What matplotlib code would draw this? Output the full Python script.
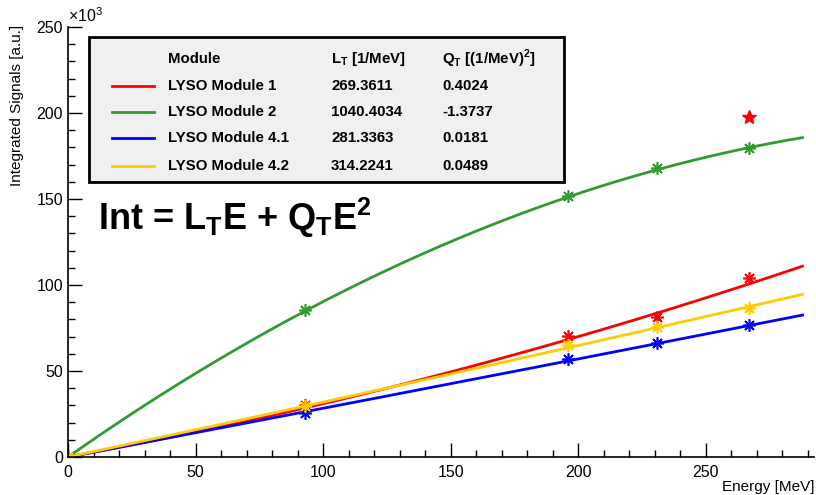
import matplotlib.pyplot as plt
import numpy as np
from matplotlib.ticker import MultipleLocator
from matplotlib.patches import Rectangle
from matplotlib.lines import Line2D

plt.rcParams['font.family'] = 'Liberation Sans'
plt.rcParams['mathtext.fontset'] = 'custom'
plt.rcParams['mathtext.rm'] = 'Liberation Sans'
plt.rcParams['mathtext.bf'] = 'Liberation Sans:bold'

# measured points (signals in units of 10^3 a.u.)
energy = [0, 93, 196, 231, 267]
mod1 = [0, 30.2, 70.3, 81.4, 104.0]
mod2 = [0, 85.5, 151.7, 168.0, 179.6]
mod41 = [0, 25.6, 57.0, 66.3, 76.7]
mod42 = [0, 29.7, 65.0, 75.6, 86.6]
outlierE, outlierY = 267, 197.7  # red star

# fit results: Int = L*E + Q*E^2
names = ["LYSO Module 1", "LYSO Module 2", "LYSO Module 4.1", "LYSO Module 4.2"]
L = [269.3611, 1040.4034, 281.3363, 314.2241]
Q = [0.4024, -1.3737, 0.0181, 0.0489]
colors = ["#ff0000", "#339933", "#0000ff", "#ffcc00"]
points = [mod1, mod2, mod41, mod42]

W, H = 816, 495
fig = plt.figure(figsize=(W / 100, H / 100), dpi=100)
ax = fig.add_axes([68 / W, 1 - 457 / H, (814 - 68) / W, (457 - 27) / H])


def px(x, y):
    return x / W, 1 - y / H


E = np.linspace(0, 288, 400)
for l, q, c, pts in zip(L, Q, colors, points):
    ax.plot(E, (l * E + q * E**2) / 1000, color=c, lw=2)
    ax.plot(energy, pts, ls="none", marker=(8, 2, 0), ms=9, mew=1.2, color=c)
ax.plot([outlierE], [outlierY], ls="none", marker="*", ms=10, color="#ff0000")

ax.set_xlim(0, 292.5)
ax.set_ylim(0, 250)
ax.xaxis.set_major_locator(MultipleLocator(50))
ax.xaxis.set_minor_locator(MultipleLocator(10))
ax.yaxis.set_major_locator(MultipleLocator(50))
ax.yaxis.set_minor_locator(MultipleLocator(10))
ax.tick_params(which="both", direction="in", top=False, right=False,
               labelsize=11.5, width=1)
ax.tick_params(which="major", length=10)
ax.tick_params(which="minor", length=5)
ax.tick_params(axis="x", pad=6)
ax.spines["top"].set_visible(False)
ax.spines["right"].set_visible(False)
ax.spines["left"].set_linewidth(1.2)
ax.spines["bottom"].set_linewidth(1.2)

fig.text(*px(68, 25), "×10$^{3}$", fontsize=11.5, ha="left", va="bottom")
fig.text(*px(17, 25), "Integrated Signals [a.u.]", fontsize=11, rotation=90,
         ha="center", va="top")
fig.text(*px(814, 487), "Energy [MeV]", fontsize=11, ha="right", va="center")

# legend table
box = Rectangle(px(89, 182), (564 - 89) / W, (182 - 37) / H, transform=fig.transFigure,
                facecolor="#f0f0f0", edgecolor="black", lw=2, zorder=5)
fig.add_artist(box)
fs = 10.8
hy = 59
fig.text(*px(168, hy), "Module", fontsize=fs, fontweight="bold", va="center", zorder=6)
fig.text(*px(331, hy), "L$_\\mathbf{T}$ [1/MeV]", fontsize=fs, fontweight="bold",
         va="center", zorder=6)
fig.text(*px(442, hy), "Q$_\\mathbf{T}$ [(1/MeV)$^\\mathbf{2}$]", fontsize=fs,
         fontweight="bold", va="center", zorder=6)
rows = [86, 112, 138, 166]
for yy, n, l, q, c in zip(rows, names, L, Q, colors):
    x0, y0 = px(112, yy)
    x1, _ = px(154, yy)
    fig.add_artist(Line2D([x0, x1], [y0, y0], color=c, lw=2,
                          transform=fig.transFigure, zorder=6))
    fig.text(*px(168, yy), n, fontsize=fs, fontweight="bold", va="center", zorder=6)
    fig.text(*px(331, yy), f"{l:.4f}", fontsize=fs, fontweight="bold", va="center", zorder=6)
    fig.text(*px(442, yy), f"{q:.4f}", fontsize=fs, fontweight="bold", va="center", zorder=6)

fig.text(*px(98, 218), "Int = L$_\\mathbf{T}$E + Q$_\\mathbf{T}$E$^\\mathbf{2}$",
         fontsize=26, fontweight="bold", va="center")

fig.savefig("out.png", dpi=100)
